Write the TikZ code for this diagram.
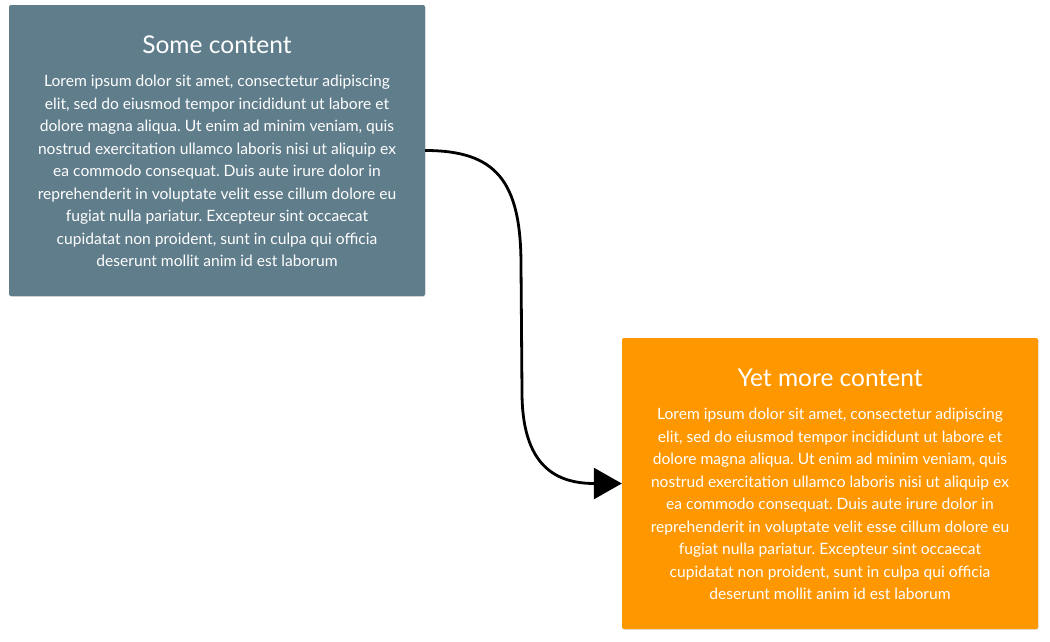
\documentclass[tikz,border=0pt]{standalone}
\usepackage{fontspec}
\setmainfont{Lato}
\usetikzlibrary{arrows.meta,shadows}
\definecolor{slate}{HTML}{607D8B}
\definecolor{amber}{HTML}{FF9800}
\tikzset{
  card/.style={draw=none, rounded corners=2pt, minimum width=416pt, minimum height=291pt,
    inner sep=0pt, drop shadow={opacity=0.25, shadow xshift=0.6pt, shadow yshift=-0.8pt}},
  cardtitle/.style={text=white, font=\fontsize{24.5}{28}\selectfont, inner sep=0pt},
  cardbody/.style={text=white, align=center, font=\fontsize{15.6}{22.5}\selectfont\frenchspacing, inner sep=0pt},
  link/.style={line width=2.8pt, -{Triangle[length=28pt,width=31pt]}}
}
\begin{document}
\begin{tikzpicture}[x=1pt,y=-1pt]
\useasboundingbox (0,0) rectangle (1050,641);
\node[card, fill=slate] (a) at (217,150.5) {};
\node[card, fill=amber] (b) at (830,483.5) {};
\node[cardtitle] (at) at (217,45) {Some content};
\node[cardbody] (ab) at (217,171) {Lorem ipsum dolor sit amet, consectetur adipiscing\\
elit, sed do eiusmod tempor incididunt ut labore et\\
dolore magna aliqua. Ut enim ad minim veniam, quis\\
nostrud exercitation ullamco laboris nisi ut aliquip ex\\
ea commodo consequat. Duis aute irure dolor in\\
reprehenderit in voluptate velit esse cillum dolore eu\\
fugiat nulla pariatur. Excepteur sint occaecat\\
cupidatat non proident, sunt in culpa qui officia\\
deserunt mollit anim id est laborum};
\node[cardtitle] (bt) at (830,378) {Yet more content};
\node[cardbody] (bb) at (830,504) {Lorem ipsum dolor sit amet, consectetur adipiscing\\
elit, sed do eiusmod tempor incididunt ut labore et\\
dolore magna aliqua. Ut enim ad minim veniam, quis\\
nostrud exercitation ullamco laboris nisi ut aliquip ex\\
ea commodo consequat. Duis aute irure dolor in\\
reprehenderit in voluptate velit esse cillum dolore eu\\
fugiat nulla pariatur. Excepteur sint occaecat\\
cupidatat non proident, sunt in culpa qui officia\\
deserunt mollit anim id est laborum};
\coordinate (m1) at (521,265);
\coordinate (m2) at (522,392);
\draw[link] (a.east) .. controls +(70,0) and +(0,-85) .. (m1) -- (m2) .. controls +(0,75) and +(-65,0) .. (b.west);
\end{tikzpicture}
\end{document}
